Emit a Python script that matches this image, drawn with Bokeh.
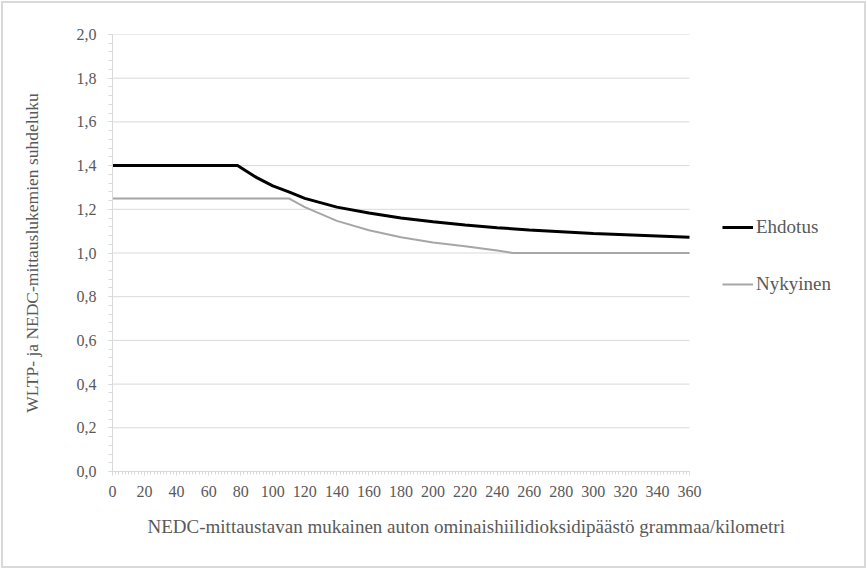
from bokeh.plotting import figure
from bokeh.models import (Range1d, FixedTicker, CustomJSTickFormatter, Legend, LegendItem, Title)
from bokeh.embed import file_html
from bokeh.resources import INLINE

# --- data ---
ehdotus_x = [0, 20, 40, 60, 78, 90, 100, 110, 120, 140, 160, 180, 200, 220, 240, 260, 280, 300, 320, 340, 360]
ehdotus_y = [1.40, 1.40, 1.40, 1.40, 1.40, 1.345, 1.307, 1.280, 1.250, 1.210, 1.183, 1.160, 1.143,
             1.128, 1.116, 1.105, 1.097, 1.089, 1.084, 1.078, 1.072]
nykyinen_x = [0, 20, 40, 60, 80, 100, 110, 120, 140, 160, 180, 200, 220, 240, 250, 260, 280, 300, 320, 340, 360]
nykyinen_y = [1.25, 1.25, 1.25, 1.25, 1.25, 1.25, 1.25, 1.210, 1.147, 1.104, 1.072, 1.048, 1.031,
              1.011, 1.0, 1.0, 1.0, 1.0, 1.0, 1.0, 1.0]
x_ticks = list(range(0, 361, 20))
y_ticks = [0.0, 0.2, 0.4, 0.6, 0.8, 1.0, 1.2, 1.4, 1.6, 1.8, 2.0]
series_names = ["Ehdotus", "Nykyinen"]
x_title = "NEDC-mittaustavan mukainen auton ominaishiilidioksidipäästö  grammaa/kilometri"
y_title = "WLTP- ja NEDC-mittauslukemien suhdeluku"

FONT = "Liberation Serif"
TXT = "#595959"
GRID = "#d9d9d9"

X_MIN, X_MAX = x_ticks[0], x_ticks[-1]
# the frame also covers the legend area on the right; the x axis itself is bounded to 0..360
LEFT, RIGHT_PAD, TOP, BOTTOM = 112, 10, 34, 98
W, H = 867, 569
AXIS_PX = 577  # pixel length of the 0..360 axis
x_end = X_MAX * (W - LEFT - RIGHT_PAD) / AXIS_PX

p = figure(width=W, height=H, output_backend="svg", toolbar_location=None,
           x_range=Range1d(X_MIN, x_end), y_range=Range1d(y_ticks[0], y_ticks[-1]))
p.min_border_left = LEFT
p.min_border_right = RIGHT_PAD
p.min_border_top = TOP
p.min_border_bottom = BOTTOM
p.outline_line_color = None
p.background_fill_color = "white"
p.border_fill_color = None
p.styles = {"outline": "2px solid #d9d9d9", "outline-offset": "-3px", "background": "white"}

# axes
xa = p.xaxis[0]
ya = p.yaxis[0]
xa.bounds = (X_MIN, X_MAX)
xa.ticker = FixedTicker(ticks=x_ticks, minor_ticks=list(range(X_MIN, X_MAX + 1, 2)))
ya.ticker = FixedTicker(ticks=y_ticks, minor_ticks=[i * 0.04 for i in range(51)])
ya.formatter = CustomJSTickFormatter(code="return tick.toFixed(1).replace('.', ',');")
for ax in (xa, ya):
    ax.axis_line_color = GRID
    ax.major_tick_line_color = GRID
    ax.minor_tick_line_color = GRID
    ax.major_tick_out = 4
    ax.major_tick_in = 0
    ax.minor_tick_out = 4
    ax.minor_tick_in = 0
    ax.major_label_text_font = FONT
    ax.major_label_text_font_size = "16px"
    ax.major_label_text_color = TXT
xa.minor_tick_out = 3
xa.major_label_standoff = 10
ya.major_label_standoff = 12

ya.axis_label = y_title
ya.axis_label_text_font = FONT
ya.axis_label_text_font_size = "17.5px"
ya.axis_label_text_font_style = "normal"
ya.axis_label_text_color = TXT
ya.axis_label_standoff = 32

p.add_layout(Title(text=x_title, align="left", offset=35, text_font=FONT,
                   text_font_size="19px", text_font_style="normal",
                   text_color=TXT, standoff=28), "below")

# horizontal gridlines limited to the axis extent
p.xgrid.visible = False
p.ygrid.visible = False
n = len(y_ticks)
p.segment(x0=[X_MIN] * n, y0=y_ticks, x1=[X_MAX] * n, y1=y_ticks,
          line_color=GRID, line_width=1)

r1 = p.line(ehdotus_x, ehdotus_y, line_color="black", line_width=3)
r2 = p.line(nykyinen_x, nykyinen_y, line_color="#a6a6a6", line_width=2)

legend = Legend(items=[LegendItem(label=series_names[0], renderers=[r1]),
                       LegendItem(label=series_names[1], renderers=[r2])],
                location=(610, 176), orientation="vertical",
                glyph_width=31, glyph_height=20, label_height=20, label_width=60,
                spacing=35, padding=0, margin=0, label_standoff=3,
                label_text_font=FONT, label_text_font_size="19px", label_text_color=TXT,
                border_line_color=None, background_fill_alpha=0)
p.add_layout(legend, "center")

open("out.html", "w").write(file_html(p, INLINE))
